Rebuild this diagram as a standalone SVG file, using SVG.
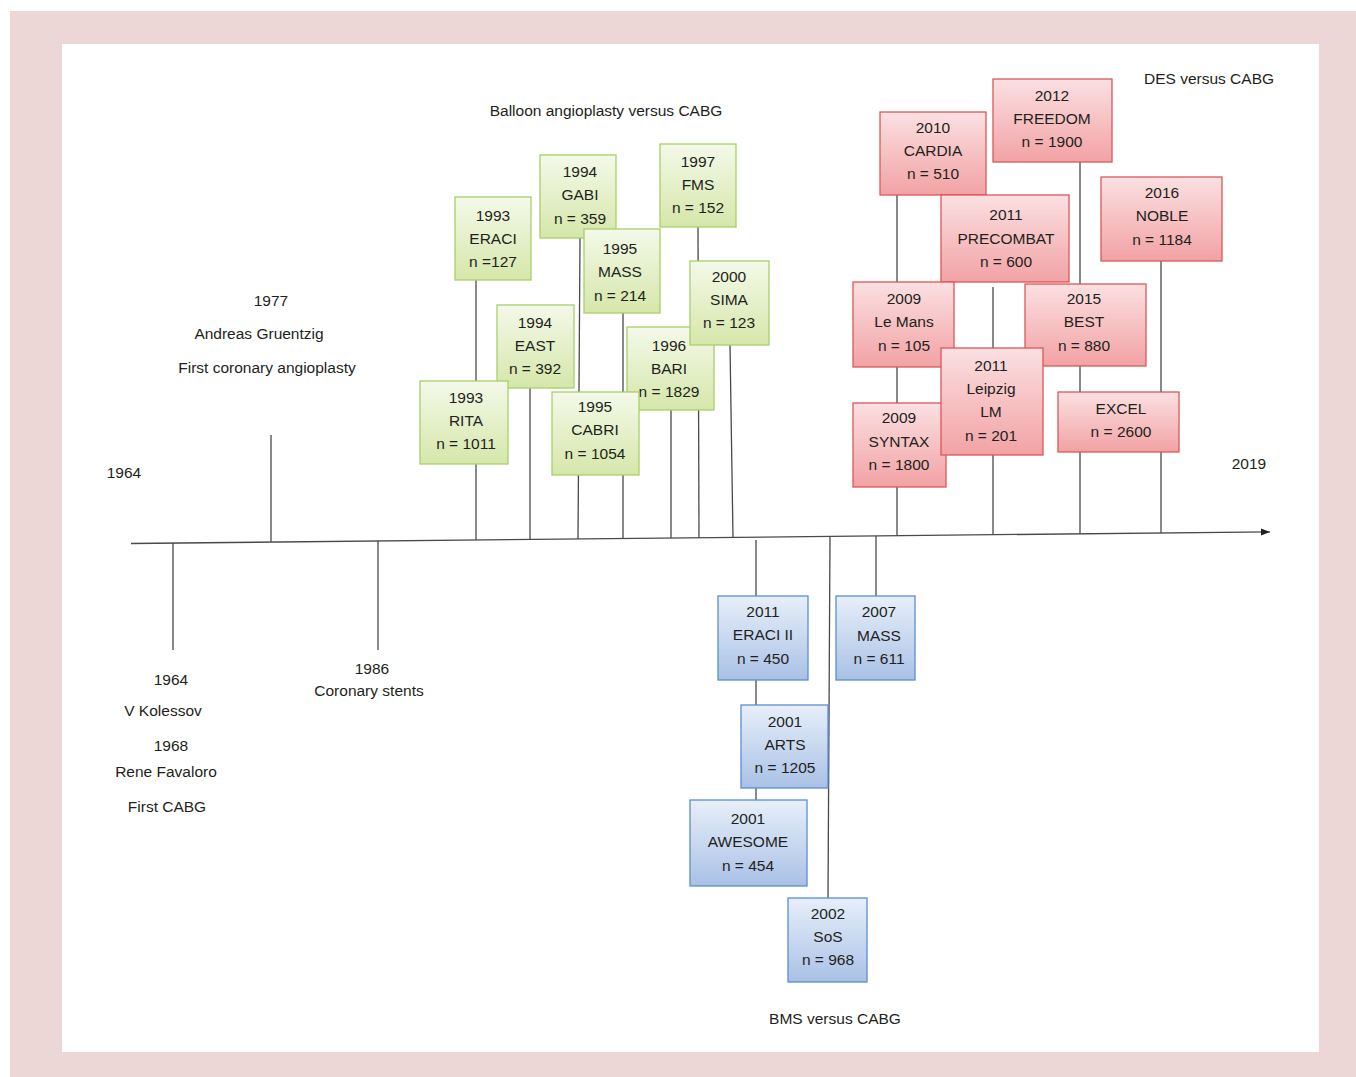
<svg xmlns="http://www.w3.org/2000/svg" width="1356" height="1077" viewBox="0 0 1356 1077">
<defs>
<linearGradient id="gG" x1="0" y1="0" x2="0" y2="1"><stop offset="0" stop-color="#f4f9e9"/><stop offset="1" stop-color="#d5e7aa"/></linearGradient>
<linearGradient id="gR" x1="0" y1="0" x2="0" y2="1"><stop offset="0" stop-color="#fbe0e2"/><stop offset="1" stop-color="#f2a2a4"/></linearGradient>
<linearGradient id="gB" x1="0" y1="0" x2="0" y2="1"><stop offset="0" stop-color="#e7eff9"/><stop offset="1" stop-color="#a9c1e6"/></linearGradient>
<marker id="arr" markerWidth="10" markerHeight="8" refX="9" refY="4" orient="auto" markerUnits="userSpaceOnUse"><path d="M0,0.5 L9,4 L0,7.5 Z" fill="#222"/></marker>
<style>
.t{font-family:"Liberation Sans",Arial,sans-serif;font-size:15.5px;fill:#231f20;text-anchor:middle}
.g{fill:url(#gG);stroke:#a8cf6a;stroke-width:1.3}
.r{fill:url(#gR);stroke:#d9585b;stroke-width:1.3}
.b{fill:url(#gB);stroke:#5b8ed3;stroke-width:1.3}
.s{stroke:#4a4a4a;stroke-width:1.3;fill:none}
</style>
</defs>
<rect x="10" y="11" width="1346" height="1066" fill="#ecd7d6"/>
<rect x="62" y="44" width="1257" height="1008" fill="#ffffff"/>

<g id="connectors">
<line class="s" x1="131" y1="543.5" x2="1270" y2="531.9" stroke="#2a2a2a" stroke-width="1.4" marker-end="url(#arr)"/>
<line class="s" x1="271" y1="435" x2="271" y2="542.1"/>
<line class="s" x1="173" y1="543.1" x2="173" y2="650"/>
<line class="s" x1="378" y1="541" x2="378" y2="650"/>
<line class="s" x1="476" y1="280" x2="476" y2="540"/>
<line class="s" x1="530" y1="388" x2="530" y2="539.4"/>
<line class="s" x1="580" y1="238" x2="578" y2="538.9"/>
<line class="s" x1="623" y1="313" x2="623" y2="538.5"/>
<line class="s" x1="671" y1="410" x2="671" y2="538"/>
<line class="s" x1="698" y1="227" x2="699" y2="537.7"/>
<line class="s" x1="730" y1="345" x2="733" y2="537.4"/>
<line class="s" x1="897" y1="195" x2="897" y2="535.7"/>
<line class="s" x1="993" y1="287" x2="993" y2="534.7"/>
<line class="s" x1="1080" y1="162" x2="1080" y2="533.8"/>
<line class="s" x1="1161" y1="261" x2="1161" y2="533"/>
<line class="s" x1="756" y1="540" x2="756" y2="800"/>
<line class="s" x1="830" y1="536.4" x2="828" y2="898"/>
<line class="s" x1="876" y1="536" x2="876" y2="596"/>
</g>

<g id="lbl-balloon"><text class="t" x="606" y="116">Balloon angioplasty versus CABG</text></g>
<g id="lbl-des"><text class="t" x="1209" y="84">DES versus CABG</text></g>
<g id="lbl-bms"><text class="t" x="835" y="1024">BMS versus CABG</text></g>
<g id="lbl-2019"><text class="t" x="1249" y="469">2019</text></g>
<g id="lbl-1964a"><text class="t" x="124" y="478">1964</text></g>
<g id="lbl-1977"><text class="t"><tspan x="271" y="306">1977</tspan><tspan x="259" y="339">Andreas Gruentzig</tspan><tspan x="267" y="373">First coronary angioplasty</tspan></text></g>
<g id="lbl-1964"><text class="t"><tspan x="171" y="685">1964</tspan><tspan x="163" y="716">V Kolessov</tspan><tspan x="171" y="751">1968</tspan><tspan x="166" y="777">Rene Favaloro</tspan><tspan x="167" y="812">First CABG</tspan></text></g>
<g id="lbl-1986"><text class="t"><tspan x="372" y="674">1986</tspan><tspan x="369" y="696">Coronary stents</tspan></text></g>

<g id="eraci"><rect class="g" x="455" y="197" width="76" height="83"/><text class="t"><tspan x="493" y="221">1993</tspan><tspan x="493" y="244">ERACI</tspan><tspan x="493" y="267">n =127</tspan></text></g>
<g id="gabi"><rect class="g" x="540" y="155" width="76" height="83"/><text class="t"><tspan x="580" y="177">1994</tspan><tspan x="580" y="200">GABI</tspan><tspan x="580" y="224">n = 359</tspan></text></g>
<g id="mass95"><rect class="g" x="584" y="229" width="76" height="84"/><text class="t"><tspan x="620" y="254">1995</tspan><tspan x="620" y="277">MASS</tspan><tspan x="620" y="301">n = 214</tspan></text></g>
<g id="fms"><rect class="g" x="660" y="144" width="76" height="83"/><text class="t"><tspan x="698" y="167">1997</tspan><tspan x="698" y="190">FMS</tspan><tspan x="698" y="213">n = 152</tspan></text></g>
<g id="east"><rect class="g" x="497" y="305" width="77" height="83"/><text class="t"><tspan x="535" y="328">1994</tspan><tspan x="535" y="351">EAST</tspan><tspan x="535" y="374">n = 392</tspan></text></g>
<g id="rita"><rect class="g" x="420" y="381" width="88" height="83"/><text class="t"><tspan x="466" y="403">1993</tspan><tspan x="466" y="426">RITA</tspan><tspan x="466" y="449">n = 1011</tspan></text></g>
<g id="bari"><rect class="g" x="627" y="327" width="87" height="83"/><text class="t"><tspan x="669" y="351">1996</tspan><tspan x="669" y="374">BARI</tspan><tspan x="669" y="397">n = 1829</tspan></text></g>
<g id="sima"><rect class="g" x="690" y="261" width="79" height="84"/><text class="t"><tspan x="729" y="282">2000</tspan><tspan x="729" y="305">SIMA</tspan><tspan x="729" y="328">n = 123</tspan></text></g>
<g id="cabri"><rect class="g" x="552" y="392" width="87" height="83"/><text class="t"><tspan x="595" y="412">1995</tspan><tspan x="595" y="435">CABRI</tspan><tspan x="595" y="459">n = 1054</tspan></text></g>

<g id="cardia"><rect class="r" x="880" y="112" width="106" height="83"/><text class="t"><tspan x="933" y="133">2010</tspan><tspan x="933" y="156">CARDIA</tspan><tspan x="933" y="179">n = 510</tspan></text></g>
<g id="freedom"><rect class="r" x="993" y="79" width="119" height="83"/><text class="t"><tspan x="1052" y="101">2012</tspan><tspan x="1052" y="124">FREEDOM</tspan><tspan x="1052" y="147">n = 1900</tspan></text></g>
<g id="noble"><rect class="r" x="1101" y="177" width="121" height="84"/><text class="t"><tspan x="1162" y="198">2016</tspan><tspan x="1162" y="221">NOBLE</tspan><tspan x="1162" y="245">n = 1184</tspan></text></g>
<g id="precombat"><rect class="r" x="941" y="195" width="128" height="87"/><text class="t"><tspan x="1006" y="220">2011</tspan><tspan x="1006" y="244">PRECOMBAT</tspan><tspan x="1006" y="267">n = 600</tspan></text></g>
<g id="lemans"><rect class="r" x="853" y="282" width="101" height="85"/><text class="t"><tspan x="904" y="304">2009</tspan><tspan x="904" y="327">Le Mans</tspan><tspan x="904" y="351">n = 105</tspan></text></g>
<g id="best"><rect class="r" x="1025" y="284" width="121" height="82"/><text class="t"><tspan x="1084" y="304">2015</tspan><tspan x="1084" y="327">BEST</tspan><tspan x="1084" y="351">n = 880</tspan></text></g>
<g id="syntax"><rect class="r" x="853" y="403" width="93" height="84"/><text class="t"><tspan x="899" y="423">2009</tspan><tspan x="899" y="447">SYNTAX</tspan><tspan x="899" y="470">n = 1800</tspan></text></g>
<g id="excel"><rect class="r" x="1058" y="392" width="121" height="60"/><text class="t"><tspan x="1121" y="414">EXCEL</tspan><tspan x="1121" y="437">n = 2600</tspan></text></g>
<g id="leipzig"><rect class="r" x="941" y="348" width="102" height="107"/><text class="t"><tspan x="991" y="371">2011</tspan><tspan x="991" y="394">Leipzig</tspan><tspan x="991" y="417">LM</tspan><tspan x="991" y="441">n = 201</tspan></text></g>

<g id="eraci2"><rect class="b" x="718" y="596" width="90" height="84"/><text class="t"><tspan x="763" y="617">2011</tspan><tspan x="763" y="640">ERACI II</tspan><tspan x="763" y="664">n = 450</tspan></text></g>
<g id="mass07"><rect class="b" x="836" y="596" width="79" height="84"/><text class="t"><tspan x="879" y="617">2007</tspan><tspan x="879" y="641">MASS</tspan><tspan x="879" y="664">n = 611</tspan></text></g>
<g id="arts"><rect class="b" x="741" y="705" width="87" height="83"/><text class="t"><tspan x="785" y="727">2001</tspan><tspan x="785" y="750">ARTS</tspan><tspan x="785" y="773">n = 1205</tspan></text></g>
<g id="awesome"><rect class="b" x="690" y="800" width="117" height="86"/><text class="t"><tspan x="748" y="824">2001</tspan><tspan x="748" y="847">AWESOME</tspan><tspan x="748" y="871">n = 454</tspan></text></g>
<g id="sos"><rect class="b" x="788" y="898" width="79" height="84"/><text class="t"><tspan x="828" y="919">2002</tspan><tspan x="828" y="942">SoS</tspan><tspan x="828" y="965">n = 968</tspan></text></g>
</svg>
